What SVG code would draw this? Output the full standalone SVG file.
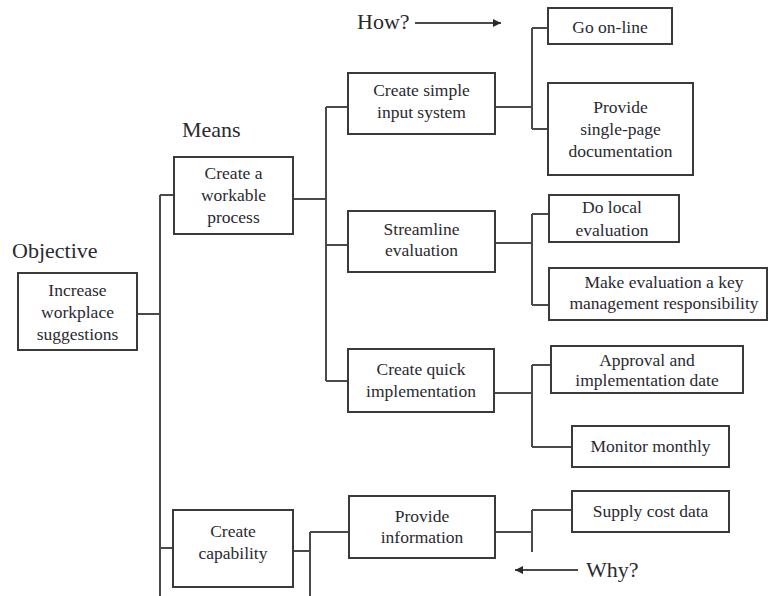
<svg xmlns="http://www.w3.org/2000/svg" width="769" height="596" viewBox="0 0 769 596">
  <defs>
    <style>
      .box { fill: #ffffff; stroke: #3a3a3a; stroke-width: 2; }
      .wire { fill: none; stroke: #4a4a4a; stroke-width: 2; }
      .t { font-family: "Liberation Serif", "Times New Roman", serif; font-size: 17.5px; fill: #2a2a30; text-anchor: middle; }
      .h { font-family: "Liberation Serif", "Times New Roman", serif; font-size: 22px; fill: #2a2a30; }
    </style>
    <marker id="arrow" viewBox="0 0 10 10" refX="10" refY="5" markerWidth="9" markerHeight="8" orient="auto" markerUnits="userSpaceOnUse">
      <path d="M0,0 L10,5 L0,10 z" fill="#2a2a2a"/>
    </marker>
  </defs>
  <rect width="769" height="596" fill="#ffffff"/>

  <!-- headings -->
  <g id="labels">
    <text class="h" x="12" y="258">Objective</text>
    <text class="h" x="182" y="137">Means</text>
    <text class="h" x="357" y="29">How?</text>
    <text class="h" x="586" y="577">Why?</text>
  </g>

  <!-- connectors -->
  <g id="connectors">
    <!-- objective trunk -->
    <path class="wire" d="M137,314 H160 M160,195 V596 M160,195 H174 M160,548 H173"/>
    <!-- workable process branch -->
    <path class="wire" d="M293,199 H326 M326,107 V381 M326,107 H348 M326,245 H348 M326,381 H348"/>
    <!-- simple input system branch -->
    <path class="wire" d="M495,107 H532 M532,28 V129 M532,28 H548 M532,129 H548"/>
    <!-- streamline branch -->
    <path class="wire" d="M495,243 H532 M532,214 V305 M532,214 H549 M532,305 H549"/>
    <!-- quick implementation branch -->
    <path class="wire" d="M494,393 H532 M532,365 V447 M532,365 H551 M532,447 H572"/>
    <!-- capability branch -->
    <path class="wire" d="M293,551 H310 M310,532 V596 M310,532 H349"/>
    <!-- information branch -->
    <path class="wire" d="M495,532 H532 M532,510 V552 M532,510 H572"/>
    <!-- how / why arrows -->
    <line class="wire" x1="415" y1="23" x2="501" y2="23" marker-end="url(#arrow)"/>
    <line class="wire" x1="578" y1="570" x2="515" y2="570" marker-end="url(#arrow)"/>
  </g>

  <g id="increase">
    <rect class="box" x="18" y="273" width="119" height="77"/>
    <text class="t" x="77.5" y="296">Increase</text>
    <text class="t" x="77.5" y="318">workplace</text>
    <text class="t" x="77.5" y="340">suggestions</text>
  </g>

  <g id="workable">
    <rect class="box" x="174" y="157" width="119" height="77"/>
    <text class="t" x="233.5" y="179">Create a</text>
    <text class="t" x="233.5" y="201">workable</text>
    <text class="t" x="233.5" y="223">process</text>
  </g>

  <g id="capability">
    <rect class="box" x="173" y="510" width="120" height="77"/>
    <text class="t" x="233" y="537">Create</text>
    <text class="t" x="233" y="559">capability</text>
  </g>

  <g id="simple-input">
    <rect class="box" x="348" y="73" width="147" height="61"/>
    <text class="t" x="421.5" y="96">Create simple</text>
    <text class="t" x="421.5" y="118">input system</text>
  </g>

  <g id="streamline">
    <rect class="box" x="348" y="211" width="147" height="61"/>
    <text class="t" x="421.5" y="235">Streamline</text>
    <text class="t" x="421.5" y="256">evaluation</text>
  </g>

  <g id="quick-impl">
    <rect class="box" x="348" y="349" width="146" height="63"/>
    <text class="t" x="421" y="375">Create quick</text>
    <text class="t" x="421" y="397">implementation</text>
  </g>

  <g id="provide-info">
    <rect class="box" x="349" y="496" width="146" height="62"/>
    <text class="t" x="422" y="522">Provide</text>
    <text class="t" x="422" y="543">information</text>
  </g>

  <g id="go-online">
    <rect class="box" x="548" y="8" width="124" height="36"/>
    <text class="t" x="610" y="33">Go on-line</text>
  </g>

  <g id="single-page">
    <rect class="box" x="548" y="83" width="145" height="92"/>
    <text class="t" x="620.5" y="113">Provide</text>
    <text class="t" x="620.5" y="135">single-page</text>
    <text class="t" x="620.5" y="157">documentation</text>
  </g>

  <g id="local-eval">
    <rect class="box" x="549" y="195" width="130" height="47"/>
    <text class="t" x="612" y="213">Do local</text>
    <text class="t" x="612" y="236">evaluation</text>
  </g>

  <g id="key-mgmt">
    <rect class="box" x="549" y="268" width="218" height="52"/>
    <text class="t" x="664" y="288">Make evaluation a key</text>
    <text class="t" x="664" y="309">management responsibility</text>
  </g>

  <g id="approval">
    <rect class="box" x="551" y="346" width="192" height="47"/>
    <text class="t" x="647" y="366">Approval and</text>
    <text class="t" x="647" y="386">implementation date</text>
  </g>

  <g id="monitor">
    <rect class="box" x="572" y="426" width="157" height="41"/>
    <text class="t" x="650.5" y="452">Monitor monthly</text>
  </g>

  <g id="cost-data">
    <rect class="box" x="572" y="491" width="157" height="41"/>
    <text class="t" x="650.5" y="517">Supply cost data</text>
  </g>
</svg>
